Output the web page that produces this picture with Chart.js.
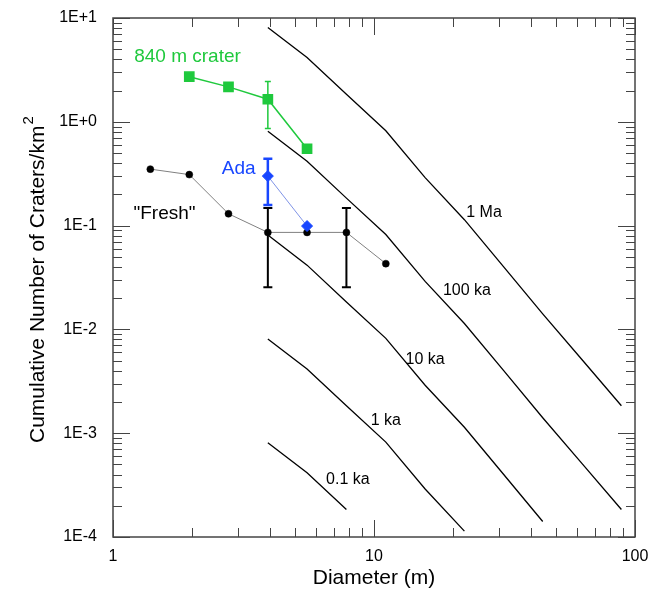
<!DOCTYPE html>
<html>
<head>
<meta charset="utf-8">
<script src="https://cdn.jsdelivr.net/npm/chart.js@4.4.0/dist/chart.umd.min.js"></script>
<style>
body { margin: 0; background: #fff; }
</style>
</head>
<body>
<canvas id="chart1" width="649" height="591"></canvas>
<script>
// isochron diameters (m) and cumulative densities (craters/km2)
const isoD = [3.92, 5.54, 7.84, 11.1, 15.7, 22.2, 31.4, 44.3, 62.7, 88.7];
const iso1Ma = [8.1, 4.16, 1.84, 0.82, 0.29, 0.114, 0.040, 0.0141, 0.0051, 0.00184];
const iso100ka = [0.81, 0.416, 0.184, 0.082, 0.029, 0.0114, 0.0040, 0.00141, 0.00051, 0.000184];
const iso10ka = [0.081, 0.0416, 0.0184, 0.0082, 0.0029, 0.00114, 0.00040, 0.000141];
const iso1ka = [0.0081, 0.00416, 0.00184, 0.00082, 0.00029, 0.000114];
const iso01ka = [0.00081, 0.000416, 0.000184];

const isoLabels = ['1 Ma', '100 ka', '10 ka', '1 ka', '0.1 ka'];
const isoLabelD = [26.4, 22.7, 15.7, 11.1, 7.94];
const isoLabelN = [0.133, 0.0236, 0.00515, 0.00132, 0.00036];

// measured crater counts
const crater840D = [1.96, 2.77, 3.92, 5.54];
const crater840N = [2.72, 2.17, 1.65, 0.55];
const crater840Err = [null, null, [0.86, 2.44], null];

const adaD = [3.92, 5.54];
const adaN = [0.30, 0.099];
const adaErr = [[0.158, 0.44], null];

const freshD = [1.39, 1.96, 2.77, 3.92, 5.54, 7.84, 11.1];
const freshN = [0.35, 0.31, 0.13, 0.086, 0.086, 0.086, 0.043];
const freshErr = [null, null, null, [0.0255, 0.148], null, [0.0255, 0.148], null];

const xTickValues = [1, 10, 100];
const yTickValues = [1e-4, 1e-3, 1e-2, 1e-1, 1, 10];

const green = '#1fc93d';
const blue = '#1846ff';

const pts = (xs, ys) => xs.map((d, i) => ({ x: d, y: ys[i] }));

const isoSet = (vals) => ({
    data: pts(isoD.slice(0, vals.length), vals),
    borderColor: '#000',
    borderWidth: 1.3,
    pointRadius: 0,
    showLine: true,
    order: 5
});

// error bars, inward ticks, frame and in-plot labels
const extras = {
    id: 'extras',
    afterDatasetsDraw(chart) {
        const { ctx, chartArea: a, scales: { x, y } } = chart;
        ctx.save();

        const bars = [
            [freshD, freshErr, '#000', 2, 4.5],
            [crater840D, crater840Err, green, 1.5, 3],
            [adaD, adaErr, blue, 2.5, 4.5]
        ];
        bars.forEach(([xs, errs, color, w, cap]) => {
            ctx.strokeStyle = color;
            ctx.lineWidth = w;
            errs.forEach((e, i) => {
                if (!e) return;
                const px = x.getPixelForValue(xs[i]);
                const lo = y.getPixelForValue(e[0]);
                const hi = y.getPixelForValue(e[1]);
                ctx.beginPath();
                ctx.moveTo(px, lo); ctx.lineTo(px, hi);
                ctx.moveTo(px - cap, lo); ctx.lineTo(px + cap, lo);
                ctx.moveTo(px - cap, hi); ctx.lineTo(px + cap, hi);
                ctx.stroke();
            });
        });

        // frame
        ctx.strokeStyle = '#444';
        ctx.lineWidth = 1.5;
        ctx.strokeRect(a.left, a.top, a.right - a.left, a.bottom - a.top);

        ctx.lineWidth = 1;
        ctx.beginPath();
        for (let e = 0; e <= 1; e++) {
            for (let m = 1; m <= 10; m++) {
                const v = m * Math.pow(10, e);
                const px = Math.round(x.getPixelForValue(v)) + 0.5;
                const len = (m === 1 || m === 10) ? 17 : 9;
                ctx.moveTo(px, a.bottom); ctx.lineTo(px, a.bottom - len);
                ctx.moveTo(px, a.top); ctx.lineTo(px, a.top + len);
            }
        }
        for (let e = -4; e <= 0; e++) {
            for (let m = 1; m <= 10; m++) {
                const v = m * Math.pow(10, e);
                const py = Math.round(y.getPixelForValue(v)) + 0.5;
                const len = (m === 1 || m === 10) ? 17 : 9;
                ctx.moveTo(a.left, py); ctx.lineTo(a.left + len, py);
                ctx.moveTo(a.right, py); ctx.lineTo(a.right - len, py);
            }
        }
        ctx.stroke();

        ctx.textAlign = 'center';
        ctx.textBaseline = 'middle';
        ctx.fillStyle = '#000';
        ctx.font = '16px "Liberation Sans", Arial, sans-serif';
        isoLabels.forEach((t, i) => {
            ctx.fillText(t, x.getPixelForValue(isoLabelD[i]), y.getPixelForValue(isoLabelN[i]));
        });

        ctx.font = '19px "Liberation Sans", Arial, sans-serif';
        ctx.fillStyle = green;
        ctx.fillText('840 m crater', x.getPixelForValue(1.93), y.getPixelForValue(4.23));
        ctx.fillStyle = blue;
        ctx.fillText('Ada', x.getPixelForValue(3.03), y.getPixelForValue(0.349));
        ctx.fillStyle = '#000';
        ctx.fillText('"Fresh"', x.getPixelForValue(1.575), y.getPixelForValue(0.131));

        // y axis title with superscript
        const main = 'Cumulative Number of Craters/km';
        ctx.translate(38, 443);
        ctx.rotate(-Math.PI / 2);
        ctx.textAlign = 'left';
        ctx.font = '21px "Liberation Sans", Arial, sans-serif';
        ctx.fillText(main, 0, 0);
        const w = ctx.measureText(main).width;
        ctx.font = '15px "Liberation Sans", Arial, sans-serif';
        ctx.fillText('2', w + 1, -9);
        ctx.restore();
    }
};

const font = { family: '"Liberation Sans", Arial, sans-serif', size: 16 };

const config1 = {
    type: 'scatter',
    data: {
        datasets: [
            isoSet(iso1Ma), isoSet(iso100ka), isoSet(iso10ka), isoSet(iso1ka), isoSet(iso01ka),
            {
                data: pts(freshD, freshN),
                showLine: true,
                borderColor: '#808080',
                borderWidth: 1,
                pointBackgroundColor: '#000',
                pointBorderColor: '#000',
                pointRadius: 3.5,
                pointBorderWidth: 0.5,
                order: 3
            },
            {
                data: pts(adaD, adaN),
                showLine: true,
                borderColor: '#7f93e6',
                borderWidth: 1,
                pointStyle: 'rectRot',
                pointBackgroundColor: blue,
                pointBorderColor: blue,
                pointRadius: 5.5,
                order: 2
            },
            {
                data: pts(crater840D, crater840N),
                showLine: true,
                borderColor: green,
                borderWidth: 1.5,
                pointStyle: 'rect',
                pointBackgroundColor: green,
                pointBorderColor: green,
                pointRadius: 6.5,
                order: 1
            }
        ]
    },
    options: {
        responsive: false,
        animation: false,
        layout: { padding: { top: 18, right: 14, left: 0, bottom: 0 } },
        plugins: {
            legend: { display: false },
            tooltip: { enabled: false }
        },
        scales: {
            x: {
                type: 'logarithmic',
                min: 1,
                max: 100,
                afterBuildTicks: (s) => { s.ticks = xTickValues.map(v => ({ value: v })); },
                afterFit: (s) => {
                    s.height = 54;
                    s.paddingLeft = 0;
                    s.paddingRight = 0;
                },
                grid: { display: false },
                border: { display: false },
                ticks: {
                    color: '#000',
                    font: font,
                    padding: 2,
                    maxRotation: 0,
                    callback: (v) => String(v)
                },
                title: {
                    display: true,
                    text: 'Diameter (m)',
                    color: '#000',
                    font: { family: font.family, size: 21 },
                    padding: { top: 0, bottom: 0 }
                }
            },
            y: {
                type: 'logarithmic',
                min: 1e-4,
                max: 10,
                afterBuildTicks: (s) => { s.ticks = yTickValues.map(v => ({ value: v })); },
                afterFit: (s) => {
                    s.width = 113;
                    s.paddingTop = 0;
                    s.paddingBottom = 0;
                },
                grid: { display: false },
                border: { display: false },
                ticks: {
                    color: '#000',
                    font: font,
                    padding: 8,
                    callback: (v) => {
                        const e = Math.round(Math.log10(v));
                        return '1E' + (e >= 0 ? '+' : '') + e;
                    }
                }
            }
        }
    },
    plugins: [extras]
};

const myChart1 = new Chart(document.getElementById('chart1').getContext('2d'), config1);
</script>
</body>
</html>
